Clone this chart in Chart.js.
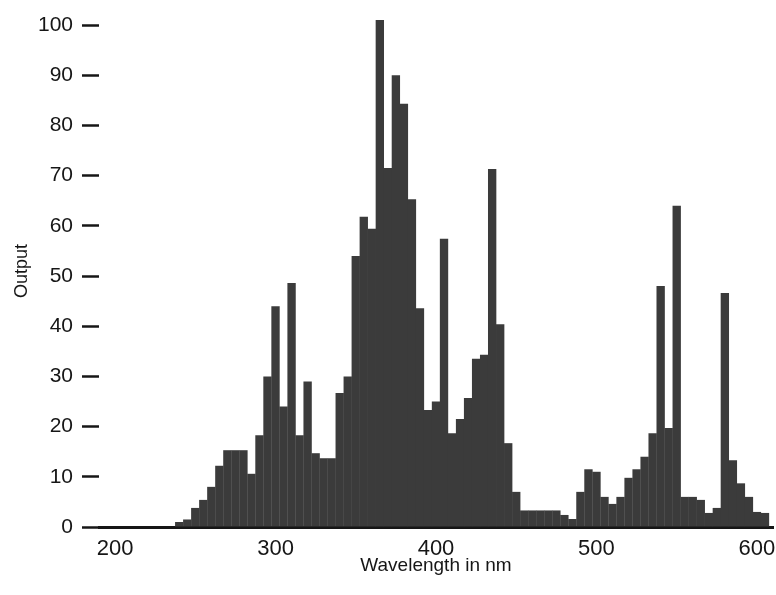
<!DOCTYPE html>
<html>
<head>
<meta charset="utf-8">
<script src="https://cdn.jsdelivr.net/npm/chart.js@4.4.1/dist/chart.umd.min.js"></script>
<style>
  html, body { margin: 0; padding: 0; background: #fff; }
  #wrap { width: 776px; height: 595px; position: relative; }
</style>
</head>
<body>
<div id="wrap"><canvas id="spectrum"></canvas></div>
<script>
// 5 nm bins, centre wavelength in nm
const wavelengths = [
  240, 245, 250, 255, 260, 265, 270, 275, 280, 285,
  290, 295, 300, 305, 310, 315, 320, 325, 330, 335,
  340, 345, 350, 355, 360, 365, 370, 375, 380, 385,
  390, 395, 400, 405, 410, 415, 420, 425, 430, 435,
  440, 445, 450, 455, 460, 465, 470, 475, 480, 485,
  490, 495, 500, 505, 510, 515, 520, 525, 530, 535,
  540, 545, 550, 555, 560, 565, 570, 575, 580, 585,
  590, 595, 600, 605
];

// relative output
const outputValues = [
  1, 1.5, 3.8, 5.4, 8, 12.2, 15.3, 15.3, 15.3, 10.6,
  18.3, 30, 44, 24, 48.6, 18.3, 29, 14.7, 13.7, 13.7,
  26.7, 30, 54, 61.8, 59.4, 101, 71.5, 90, 84.3, 65.3,
  43.6, 23.3, 25, 57.4, 18.7, 21.5, 25.7, 33.5, 34.3, 71.3,
  40.4, 16.7, 7, 3.3, 3.3, 3.3, 3.3, 3.3, 2.4, 1.6,
  7, 11.5, 11, 6, 4.6, 6, 9.8, 11.5, 14, 18.7,
  48, 19.7, 64, 6, 6, 5.4, 2.8, 3.8, 46.6, 13.3,
  8.7, 6, 3, 2.8
];

const xTicks = [200, 300, 400, 500, 600];
const yTicks = [0, 10, 20, 30, 40, 50, 60, 70, 80, 90, 100];

const ink = '#161616';
const barColor = '#3b3b3b';
const fontFamily = "'Liberation Sans', Arial, sans-serif";

const ctx = document.getElementById('spectrum').getContext('2d');

new Chart(ctx, {
  type: 'bar',
  data: {
    datasets: [{
      label: 'Output',
      data: wavelengths.map((w, i) => ({ x: w, y: outputValues[i] })),
      backgroundColor: barColor,
      borderWidth: 0,
      barPercentage: 1.04,
      categoryPercentage: 1
    }]
  },
  options: {
    responsive: true,
    maintainAspectRatio: false,
    animation: false,
    layout: { padding: { top: 15, right: 3, left: 0, bottom: 0 } },
    plugins: {
      legend: { display: false },
      tooltip: { enabled: false }
    },
    scales: {
      x: {
        type: 'linear',
        min: 190,
        max: 610,
        offset: false,
        afterBuildTicks: function (scale) {
          scale.ticks = xTicks.map(v => ({ value: v }));
        },
        afterFit: function (scale) {
          // keep the end labels from squeezing the plot
          scale.height = 68;
          scale.paddingLeft = 0;
          scale.paddingRight = 0;
        },
        grid: { display: false, drawTicks: false },
        border: { display: true, color: ink, width: 3 },
        ticks: {
          padding: 9,
          color: ink,
          maxRotation: 0,
          autoSkip: false,
          font: { family: fontFamily, size: 22 }
        },
        title: {
          display: true,
          text: 'Wavelength in nm',
          color: ink,
          font: { family: fontFamily, size: 19 },
          padding: { top: 0, bottom: 18 }
        }
      },
      y: {
        min: 0,
        max: 102,
        afterBuildTicks: function (scale) {
          scale.ticks = yTicks.map(v => ({ value: v }));
        },
        afterFit: function (scale) {
          scale.width = 99;
          scale.paddingTop = 0;
          scale.paddingBottom = 0;
        },
        grid: {
          drawOnChartArea: false,
          drawTicks: true,
          tickLength: 17,
          tickWidth: 2.5,
          tickColor: ink,
          color: ink
        },
        border: { display: false },
        ticks: {
          padding: 9,
          color: ink,
          font: { family: fontFamily, size: 21 }
        },
        title: {
          display: true,
          text: 'Output',
          color: ink,
          font: { family: fontFamily, size: 18 },
          padding: { top: 11, bottom: 0 }
        }
      }
    }
  }
});
</script>
</body>
</html>
